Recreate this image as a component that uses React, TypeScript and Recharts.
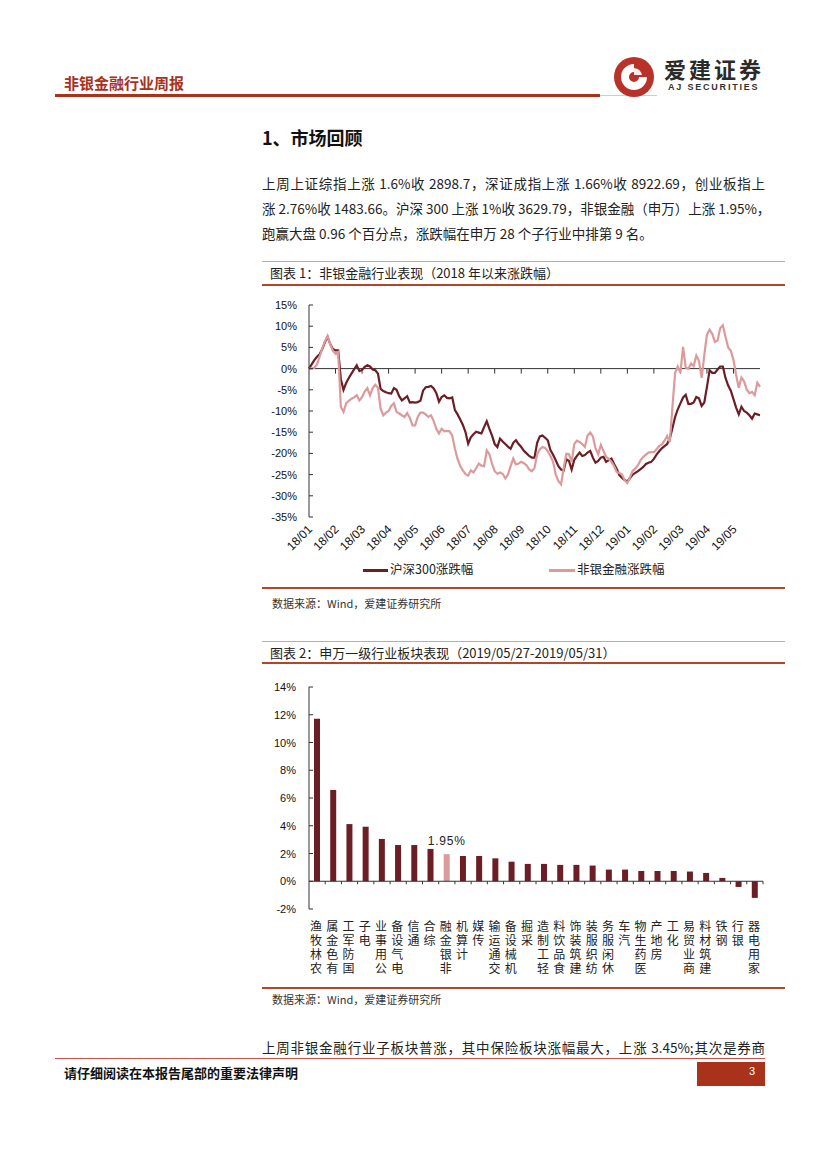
import React from 'react'
import { LineChart, Line, XAxis, YAxis, ReferenceLine, BarChart, Bar, Cell, LabelList } from 'recharts'

// chart 1: cumulative change since 2018-01, sampled every tenth of a month
const months = ['18/01', '18/02', '18/03', '18/04', '18/05', '18/06', '18/07', '18/08', '18/09', '18/10', '18/11', '18/12', '19/01', '19/02', '19/03', '19/04', '19/05']
const hs300 = [
  0, 1.0, 2.0, 2.8, 3.4, 4.6, 6.2, 7.5, 5.8, 4.6,
  4.3, 4.3, -2.5, -5.0, -3.4, -2.2, -1.2, -0.2, 0.8, -0.6,
  -0.3, 0.4, 0.8, 0.5, -0.2, -0.4, -1.2, -4.8, -5.3, -5.6,
  -5.8, -5.9, -4.6, -5.0, -6.5, -7.5, -7.0, -6.5, -8.0, -7.9,
  -8.0, -7.9, -7.6, -5.2, -4.4, -4.3, -4.1, -4.7, -5.8, -7.8,
  -6.7, -6.3, -6.9, -7.0, -6.8, -9.8, -10.8, -12.0, -13.3, -15.0,
  -17.7, -16.2, -15.5, -14.9, -15.1, -15.3, -13.8, -12.4, -14.2, -15.8,
  -17.8, -18.5, -16.5, -17.2, -17.8, -18.4, -18.9, -17.5, -16.9, -17.8,
  -18.5, -19.4, -20.0, -20.6, -21.0, -21.0, -17.5, -16.0, -15.8, -16.3,
  -16.9, -19.2, -20.3, -21.6, -23.0, -23.8, -24.0, -21.4, -21.8, -23.8,
  -21.5, -20.6, -19.8, -20.6, -20.4, -19.8, -19.4, -21.0, -22.2, -21.8,
  -21.0, -20.8, -22.0, -21.6, -21.2, -22.5, -23.7, -25.1, -25.8, -26.3,
  -26.6, -25.8, -25.0, -24.6, -24.2, -23.7, -23.2, -22.5, -22.2, -22.0,
  -21.3, -20.3, -19.5, -18.8, -18.3, -17.8, -16.5, -14.0, -11.4, -9.6,
  -8.2, -6.8, -6.2, -8.3, -8.3, -8.0, -6.7, -7.0, -8.8, -8.0,
  -4.3, -0.4, -1.0, -1.0, -0.2, 0.5, 0.5, -2.2, -4.0, -5.2,
  -7.2, -9.2, -10.8, -9.0, -10.0, -10.4, -11.0, -11.8, -10.6, -10.8,
  -11.0,
]
const finance = [
  0, 0, 0.2, 1.0, 2.8, 4.8, 6.4, 7.7, 5.8, 4.2,
  3.5, 3.9, -9.0, -10.2, -8.2, -7.6, -7.1, -6.8, -6.3, -7.5,
  -6.7, -5.4, -4.6, -6.3, -4.6, -3.8, -4.5, -9.5, -11.0, -10.4,
  -10.0, -8.8, -8.2, -10.2, -10.6, -11.0, -11.4, -10.5, -11.6, -13.4,
  -13.4, -11.4, -10.4, -10.4, -10.8, -11.4, -11.0, -12.4, -14.2, -15.3,
  -14.2, -14.8, -14.7, -14.8, -15.8, -18.9, -21.3, -23.0, -24.0, -24.9,
  -25.2, -24.0, -24.5, -23.5, -22.4, -22.9, -23.0, -19.3, -20.2, -22.5,
  -24.2, -24.8, -24.5, -24.8, -25.9, -25.0, -23.0, -21.2, -22.6, -22.4,
  -22.0, -22.3, -22.8, -23.8, -24.2, -23.4, -20.2, -19.0, -18.5, -18.7,
  -19.5, -20.6, -22.0, -25.0, -26.5, -27.3, -23.5, -20.1, -20.2, -22.0,
  -17.8, -17.0, -17.3, -17.8, -18.5, -15.8, -15.1, -16.0, -18.8, -20.2,
  -18.0, -19.4, -20.8, -21.3, -22.0, -23.0, -24.4, -24.6, -25.0, -26.3,
  -27.0, -25.6, -24.1, -23.6, -22.8, -21.6, -20.8, -20.3, -19.8, -19.7,
  -19.7, -19.0, -18.3, -17.9, -17.0, -15.9, -17.3, -9.0, -1.0, 0.5,
  -1.0, 5.1, 0.2, 0.0, 1.2, 0.6, 3.1, 1.8, -2.2, 3.2,
  8.0, 9.2, 8.2, 6.3, 6.6, 9.5, 10.2, 7.5, 5.0, 4.2,
  2.0, -1.5, -4.5, -2.1, -3.0, -5.0, -5.8, -5.5, -6.3, -3.3,
  -4.3,
]
const lineTicks = [15, 10, 5, 0, -5, -10, -15, -20, -25, -30, -35]

// chart 2: weekly change by SW level-1 industry
const industries = ['农林牧渔', '有色金属', '国防军工', '电子', '公用事业', '电气设备', '通信', '综合', '非银金融', '计算机', '传媒', '交通运输', '机械设备', '采掘', '轻工制造', '食品饮料', '建筑装饰', '纺织服装', '休闲服务', '汽车', '医药生物', '房地产', '化工', '商业贸易', '建筑材料', '钢铁', '银行', '家用电器']
const weeklyChg = [11.72, 6.58, 4.12, 3.93, 3.05, 2.61, 2.61, 2.33, 1.95, 1.82, 1.82, 1.65, 1.41, 1.25, 1.25, 1.18, 1.18, 1.13, 0.84, 0.84, 0.74, 0.74, 0.74, 0.70, 0.60, 0.24, -0.41, -1.20]
const barTicks = [14, 12, 10, 8, 6, 4, 2, 0, -2]
const highlight = '非银金融'

const DARK = '#6B1E24'
const PINK = '#DC9A9B'
const BRAND = '#A8321A'
const AXIS = '#333'
const LATIN = '"Liberation Sans", Arial, sans-serif'
const CJK = '"Noto Sans CJK SC", sans-serif'

const lineData = hs300.map((v, i) => ({ x: i / 10, hs300: v, finance: finance[i] }))
const barData = industries.map((name, i) => ({ name, v: weeklyChg[i] }))

function PctTick({ x, y, payload, margin }: any) {
  return (
    <g>
      <line x1={x + margin} x2={x + margin + 4} y1={y} y2={y} stroke={AXIS} />
      <text x={x} y={y} dy={4} textAnchor="end" fontSize={11} fill="#111" fontFamily={LATIN}>
        {payload.value}%
      </text>
    </g>
  )
}

function MonthTick({ x, y, payload }: any) {
  return (
    <g transform={`translate(${x + 4},${y + 2})`}>
      <text x={0} y={0} textAnchor="end" fontSize={12} fill="#111" fontFamily={LATIN} transform="rotate(-45)">
        {months[payload.value]}
      </text>
    </g>
  )
}

// labels stacked upright, reading bottom-to-top, top aligned under the axis
function VerticalTick({ x, y, payload }: any) {
  const label = Array.from(String(payload.value)).reverse().join('')
  return (
    <text x={x - 1} y={y + 11} fontSize={12} letterSpacing={2} fill="#222" fontFamily={CJK}
      style={{ writingMode: 'vertical-rl', textOrientation: 'upright' } as any}>
      {label}
    </text>
  )
}

// x axis drawn on the zero line, ticks at category / month boundaries
function ZeroAxis({ x1, x2, y1, count, len, withEnd }: any) {
  const step = (x2 - x1) / count
  const n = withEnd ? count : count - 1
  return (
    <g>
      <line x1={x1} x2={x2} y1={y1} y2={y1} stroke={AXIS} strokeWidth={1} />
      {Array.from({ length: n }, (_, i) => (
        <line key={i} x1={x1 + step * (i + 1)} x2={x1 + step * (i + 1)} y1={y1} y2={y1 + len} stroke={AXIS} />
      ))}
    </g>
  )
}

function HighlightLabel({ x, y, width, value, index }: any) {
  if (industries[index] !== highlight) return null
  return (
    <text x={x + width / 2} y={y - 9} textAnchor="middle" fontSize={12} fill="#222" fontFamily={LATIN} letterSpacing={0.8}>
      {Number(value).toFixed(2)}%
    </text>
  )
}

function Rule({ top, h = 1, color, left = 262, width = 523 }: any) {
  return <div style={{ position: 'absolute', left, top, width, height: h, background: color }} />
}

function Txt({ left, top, size, children, style }: any) {
  return (
    <div style={{ position: 'absolute', left, top, fontSize: size, lineHeight: `${size + 4}px`, fontFamily: CJK, color: '#222', whiteSpace: 'nowrap', ...style }}>
      {children}
    </div>
  )
}

function Logo() {
  return (
    <>
      <svg style={{ position: 'absolute', left: 612, top: 55 }} width={44} height={44}>
        <circle cx={22} cy={22} r={20} fill="#B8322A" />
        <path d="M22 9 A13 13 0 1 0 35 22 L27 22 A5 5 0 0 1 22 27 A5 5 0 0 1 17 22 A5 5 0 0 1 22 17 Z" fill="#fff" />
        <path d="M22 13 L22 20 L30 20 A9 9 0 0 0 22 13 Z" fill="#fff" opacity={0.9} />
      </svg>
      <Txt left={664} top={55} size={22} style={{ fontWeight: 700, letterSpacing: 3, color: '#2a2a2a' }}>爱建证券</Txt>
      <Txt left={668} top={81} size={9} style={{ fontFamily: LATIN, fontWeight: 700, letterSpacing: 1.8, color: '#333' }}>AJ SECURITIES</Txt>
    </>
  )
}

const para = [
  '上周上证综指上涨 1.6%收 2898.7，深证成指上涨 1.66%收 8922.69，创业板指上',
  '涨 2.76%收 1483.66。沪深 300 上涨 1%收 3629.79，非银金融（申万）上涨 1.95%，',
  '跑赢大盘 0.96 个百分点，涨跌幅在申万 28 个子行业中排第 9 名。',
]

export default function App() {
  return (
    <div style={{ position: 'absolute', left: 0, top: 0, width: 827, height: 1169, background: '#fff', overflow: 'hidden' }}>
      {/* header */}
      <Txt left={64} top={73} size={15} style={{ fontWeight: 700, color: BRAND }}>非银金融行业周报</Txt>
      <Rule left={55} top={94} width={545} h={3} color={BRAND} />
      <Rule left={600} top={95} width={57} h={1} color="#E6C4B6" />
      <Logo />

      <Txt left={262} top={126} size={18} style={{ fontWeight: 700, color: '#111' }}>1、市场回顾</Txt>
      {para.map((line, i) => (
        <div key={i} style={{
          position: 'absolute', left: 262, top: 174 + i * 25, width: i < 2 ? 503 : 'auto',
          fontSize: 13.5, lineHeight: '18px', fontFamily: CJK, color: '#222',
          textAlign: 'justify', textAlignLast: i < 2 ? 'justify' : 'left', whiteSpace: 'nowrap',
        }}>{line}</div>
      ))}

      {/* figure 1 */}
      <Rule top={261} color="#D9A38E" />
      <Txt left={270} top={264} size={13}>图表 1：非银金融行业表现（2018 年以来涨跌幅）</Txt>
      <Rule top={284} h={2} color="#B5452A" />
      <div style={{ position: 'absolute', left: 262, top: 290 }}>
        <LineChart width={530} height={300} data={lineData} margin={{ top: 15, right: 32, bottom: 33, left: 0 }}>
          <XAxis type="number" dataKey="x" domain={[0, months.length]} ticks={months.map((_, i) => i)} interval={0}
            axisLine={false} tickLine={false} tickSize={0} tickMargin={11} height={40} tick={<MonthTick />} />
          <YAxis domain={[-35, 15]} ticks={lineTicks} interval={0} width={47} axisLine={{ stroke: AXIS }}
            tickLine={false} tickSize={0} tickMargin={12} tick={<PctTick margin={12} />} />
          <ReferenceLine y={0} shape={(p: any) => <ZeroAxis {...p} count={months.length} len={5} withEnd={false} />} />
          <Line type="linear" dataKey="hs300" stroke={DARK} strokeWidth={2.2} dot={false} isAnimationActive={false} />
          <Line type="linear" dataKey="finance" stroke={PINK} strokeWidth={2.2} dot={false} isAnimationActive={false} />
        </LineChart>
      </div>
      <Rule left={363} top={569} width={25} h={2.5} color={DARK} />
      <Txt left={390} top={561} size={12.5}>沪深300涨跌幅</Txt>
      <Rule left={549} top={569} width={26} h={2.5} color={PINK} />
      <Txt left={577} top={561} size={12.5}>非银金融涨跌幅</Txt>
      <Rule top={587} h={2} color="#B5452A" />
      <Txt left={272} top={596} size={11} style={{ color: '#333' }}>数据来源：Wind，爱建证券研究所</Txt>

      {/* figure 2 */}
      <Rule top={641} color="#D9A38E" />
      <Txt left={270} top={644} size={13}>图表 2：申万一级行业板块表现（2019/05/27-2019/05/31）</Txt>
      <Rule top={662} h={2} color="#B5452A" />
      <div style={{ position: 'absolute', left: 262, top: 680 }}>
        <BarChart width={530} height={310} data={barData} margin={{ top: 7, right: 29, bottom: 0, left: 0 }}>
          <XAxis dataKey="name" interval={0} axisLine={false} tickLine={false} tickSize={0} tickMargin={0}
            height={81} tick={<VerticalTick />} />
          <YAxis domain={[-2, 14]} ticks={barTicks} interval={0} width={47} axisLine={{ stroke: AXIS }}
            tickLine={false} tickSize={0} tickMargin={13} tick={<PctTick margin={13} />} />
          <ReferenceLine y={0} shape={(p: any) => <ZeroAxis {...p} count={industries.length} len={3} withEnd />} />
          <Bar dataKey="v" barSize={6} isAnimationActive={false}>
            {barData.map((d) => (
              <Cell key={d.name} fill={d.name === highlight ? PINK : DARK} />
            ))}
            <LabelList dataKey="v" content={<HighlightLabel />} />
          </Bar>
        </BarChart>
      </div>
      <Rule top={987} h={2} color="#B5452A" />
      <Txt left={272} top={992} size={11} style={{ color: '#333' }}>数据来源：Wind，爱建证券研究所</Txt>

      <div style={{
        position: 'absolute', left: 262, top: 1038, width: 503, fontSize: 13.5, lineHeight: '18px',
        fontFamily: CJK, color: '#222', textAlign: 'justify', textAlignLast: 'justify', whiteSpace: 'nowrap',
      }}>上周非银金融行业子板块普涨，其中保险板块涨幅最大，上涨 3.45%;其次是券商</div>

      {/* footer */}
      <Rule left={55} top={1058} width={710} h={1} color="#C8504A" />
      <Txt left={64} top={1064} size={13} style={{ fontWeight: 700, color: '#111' }}>请仔细阅读在本报告尾部的重要法律声明</Txt>
      <div style={{ position: 'absolute', left: 697, top: 1062, width: 68, height: 24, background: BRAND }} />
      <Txt left={749} top={1064} size={11} style={{ color: '#fff', fontFamily: LATIN }}>3</Txt>
    </div>
  )
}
